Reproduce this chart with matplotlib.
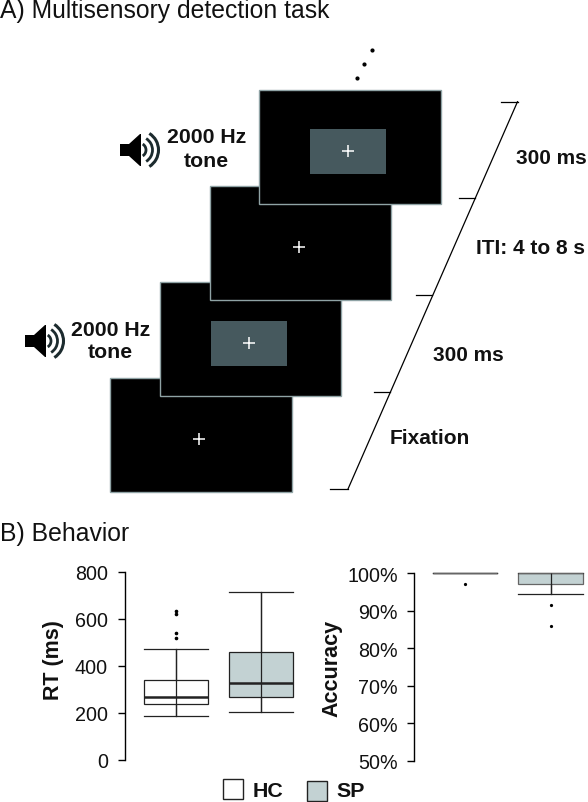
import matplotlib
matplotlib.use("Agg")
import matplotlib.pyplot as plt
from matplotlib.patches import Rectangle, Polygon, Arc

plt.rcParams['font.family'] = ['Liberation Sans', 'DejaVu Sans']

W, H = 588, 803

# --- behaviour data
groups = ['HC', 'SP']
rt_low = [185, 202]
rt_q1 = [236, 267]
rt_med = [268, 328]
rt_q3 = [338, 458]
rt_high = [472, 712]
rt_fliers = [[517, 540, 620, 634], []]

acc_low = [100, 94.4]
acc_q1 = [100, 97.2]
acc_med = [100, 100]
acc_q3 = [100, 100]
acc_high = [100, 100]
acc_fliers = [[97.2], [91.5, 86]]

rt_ticks = [0, 200, 400, 600, 800]
acc_ticks = [50, 60, 70, 80, 90, 100]

box_colors = ['white', '#c3d2d3']
line_col = '#222222'
text_col = '#111111'

fig = plt.figure(figsize=(W / 100, H / 100), dpi=100)

# canvas in pixel coordinates for the task schematic
bg = fig.add_axes([0, 0, 1, 1])
bg.set_xlim(0, W)
bg.set_ylim(H, 0)
bg.axis('off')

bg.text(0, 11, 'A) Multisensory detection task', fontsize=17.8, va='center', ha='left', color=text_col)
bg.text(0, 534, 'B) Behavior', fontsize=17.8, va='center', ha='left', color=text_col)

# screens, bottom one first
screens = [(110, 378.5), (159.5, 283), (209.5, 187), (259, 91)]
stim = [False, True, False, True]
for (sx, sy), has_stim in zip(screens, stim):
    bg.add_patch(Rectangle((sx, sy), 181.5, 114, fc='black', ec='#8fa3a5', lw=1))
    if has_stim:
        bg.add_patch(Rectangle((sx + 51, sy + 39), 76, 45, fc='#46595e', ec='none'))
    bg.plot(sx + 89, sy + 61, marker='+', ms=8, mew=1.1, color='white')

# dots above top screen
bg.plot([357, 364, 372], [79, 65, 51], ls='', marker='o', ms=2, color='black')

# time line
bg.plot([348, 517.5], [490, 102.7], color='black', lw=0.9)
bg.plot([330, 348], [490, 490], color='black', lw=0.9)
bg.plot([374, 390], [393, 393], color='black', lw=0.9)
bg.plot([416, 432], [296, 296], color='black', lw=0.9)
bg.plot([459, 475], [199, 199], color='black', lw=0.9)
bg.plot([501, 517.5], [102.7, 102.7], color='black', lw=0.9)

for tx, ty, s in [(516, 159, '300 ms'), (475.5, 248, 'ITI: 4 to 8 s'),
                  (433, 356, '300 ms'), (390, 439, 'Fixation')]:
    bg.text(tx, ty, s, fontsize=15, fontweight='bold', va='center', ha='left', color=text_col)

bg.text(206.5, 149.5, '2000 Hz\ntone', fontsize=15.3, fontweight='bold', va='center', ha='center',
        linespacing=1.27, color=text_col)
bg.text(110.5, 341.5, '2000 Hz\ntone', fontsize=15.3, fontweight='bold', va='center', ha='center',
        linespacing=1.22, color=text_col)


def speaker(cx, cy):
    bg.add_patch(Polygon([(cx - 20, cy - 6), (cx - 11, cy - 6), (cx, cy - 16), (cx + 1, cy - 16),
                          (cx + 1, cy + 16), (cx, cy + 16), (cx - 11, cy + 6), (cx - 20, cy + 6)],
                         fc='black', ec='none'))
    for r, w in [(7, 2.0), (13.5, 2.0), (19.5, 2.2)]:
        bg.add_patch(Arc((cx - 1, cy), 2 * r, 2 * r, theta1=-58, theta2=58, color='#1c2b2e', lw=w))


speaker(140, 151)
speaker(45, 342)


def px_rect(x0, x1, ytop, ybot):
    return [x0 / W, 1 - ybot / H, (x1 - x0) / W, (ybot - ytop) / H]


def make_stats(low, q1, med, q3, high, fliers):
    return [dict(whislo=a, q1=b, med=c, q3=d, whishi=e, fliers=f)
            for a, b, c, d, e, f in zip(low, q1, med, q3, high, fliers)]


def box_panel(rect, ylim, ticks, labels, ylabel, stats, xlim, label_x, label_y, ms, med_lw, col):
    ax = fig.add_axes(rect)
    ax.patch.set_alpha(0)
    res = ax.bxp(stats, positions=[1, 2], widths=0.755, patch_artist=True,
                 boxprops=dict(edgecolor=col, linewidth=0.9),
                 medianprops=dict(color=col, linewidth=med_lw),
                 whiskerprops=dict(color=line_col, linewidth=0.9),
                 capprops=dict(color=line_col, linewidth=0.9),
                 flierprops=dict(marker='o', ms=ms, mfc='black', mec='black'),
                 capwidths=0.755)
    for b, c in zip(res['boxes'], box_colors):
        b.set_facecolor(c)
    # whisker line runs through the box in the original
    ax.vlines([1, 2], [s['whislo'] for s in stats], [s['whishi'] for s in stats],
              color=line_col, lw=0.9, zorder=5)
    for ln in ax.get_lines():
        ln.set_clip_on(False)
    ax.set_xlim(*xlim)
    ax.set_ylim(*ylim)
    ax.set_xticks([])
    ax.set_yticks(ticks)
    ax.set_yticklabels(labels, fontsize=14.2, color=text_col)
    ax.tick_params(axis='y', length=5, width=1, pad=7)
    for s in ['top', 'right', 'bottom']:
        ax.spines[s].set_visible(False)
    ax.spines['left'].set_linewidth(1)
    bg.text(label_x, label_y, ylabel, rotation=90, fontsize=15.5,
            fontweight='bold', va='center', ha='center', color=text_col)
    return ax


rt_stats = make_stats(rt_low, rt_q1, rt_med, rt_q3, rt_high, rt_fliers)
acc_stats = make_stats(acc_low, acc_q1, acc_med, acc_q3, acc_high, acc_fliers)

box_panel(px_rect(124.5, 300, 572.7, 760.7), (0, 800), rt_ticks, [str(t) for t in rt_ticks],
          'RT (ms)', rt_stats, (1 - 51.5 / 85, 1 - 51.5 / 85 + 175.5 / 85), 53, 660, 1.6, 1.8, line_col)
box_panel(px_rect(414.3, 588, 574.3, 761.7), (50, 100), acc_ticks, ['%d%%' % t for t in acc_ticks],
          'Accuracy', acc_stats, (1 - 50.9 / 85.3, 1 - 50.9 / 85.3 + 173.7 / 85.3), 332, 668, 1.3, 0.9, '#666666')

# legend
bg.add_patch(Rectangle((222.5, 780), 20, 20, fc=box_colors[0], ec=line_col, lw=1))
bg.add_patch(Rectangle((306.5, 782), 20, 20, fc=box_colors[1], ec=line_col, lw=1))
bg.text(253, 792, groups[0], fontsize=15.4, fontweight='bold', va='center', ha='left', color=text_col)
bg.text(336.5, 791.5, groups[1], fontsize=15.4, fontweight='bold', va='center', ha='left', color=text_col)

fig.savefig('out.png', dpi=100)
